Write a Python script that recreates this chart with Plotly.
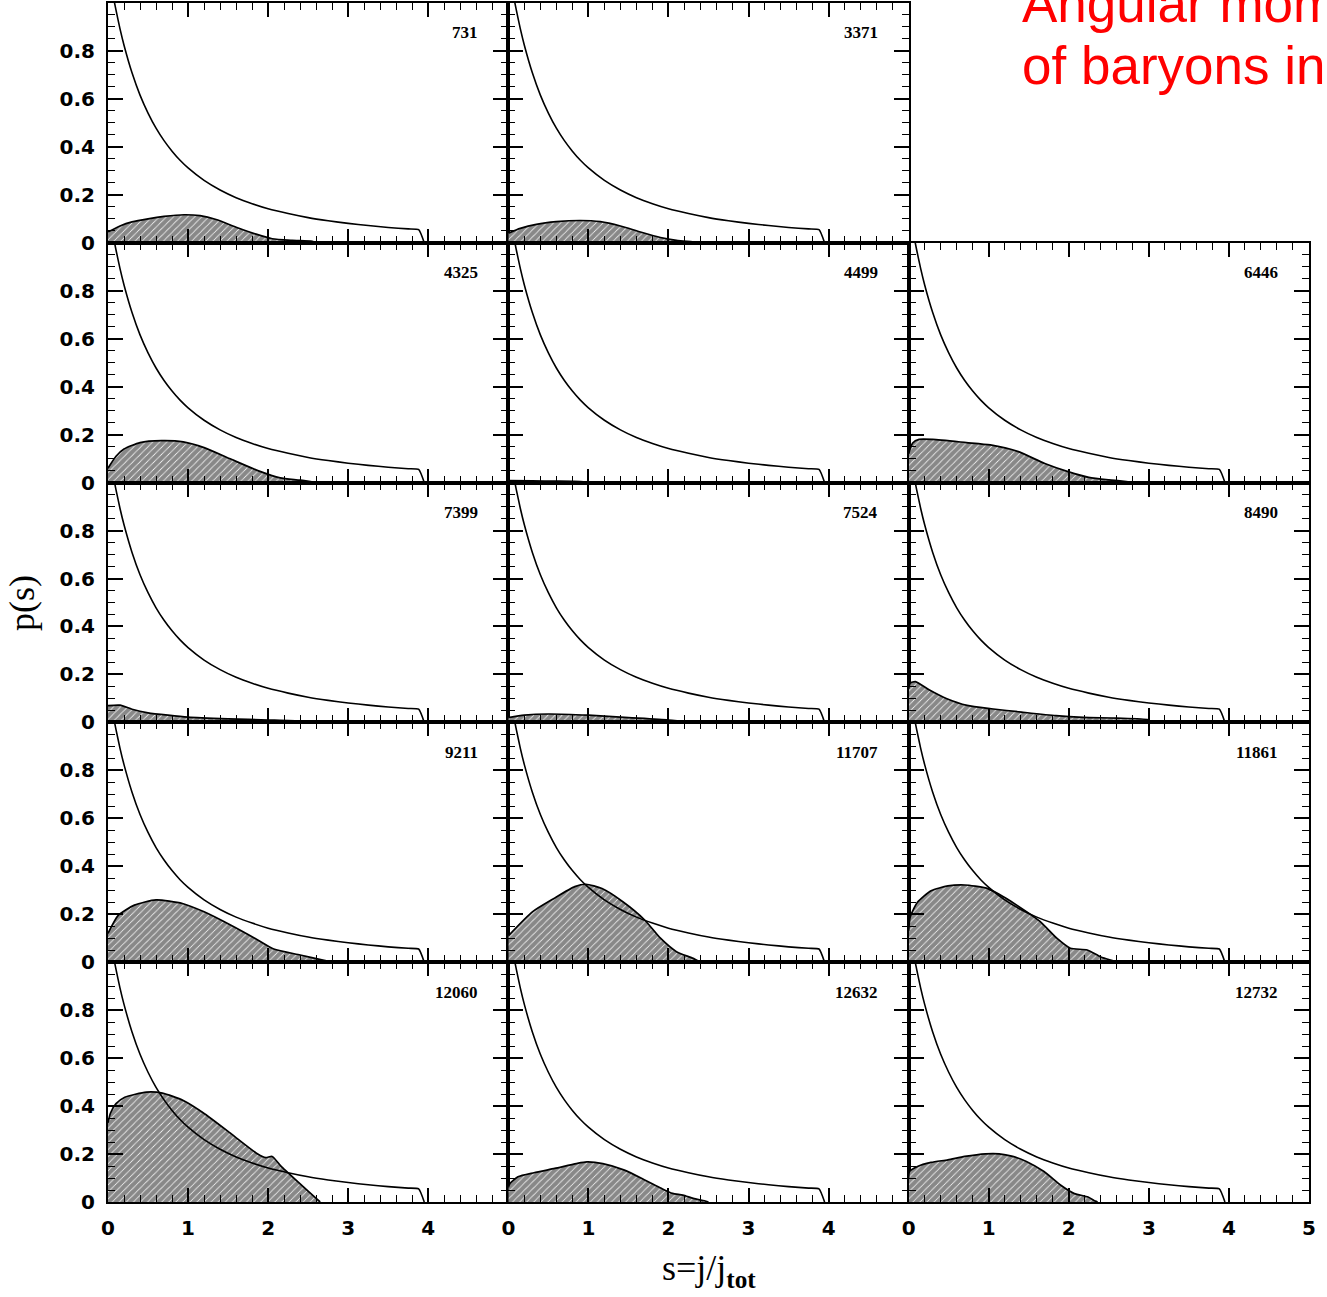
import plotly.graph_objects as go
from plotly.subplots import make_subplots

# ---- universal reference curve (same in every panel) ----
curve_s = [0.07, 0.1, 0.15, 0.2, 0.3, 0.4, 0.5, 0.6, 0.7, 0.8, 0.9, 1.0, 1.2, 1.4, 1.6,
           1.8, 2.0, 2.25, 2.5, 2.75, 3.0, 3.25, 3.5, 3.75, 3.88, 3.95]
curve_p = [1.02, 0.97, 0.892, 0.824, 0.709, 0.616, 0.541, 0.478, 0.426, 0.382, 0.344, 0.312,
           0.26, 0.22, 0.188, 0.163, 0.142, 0.122, 0.105, 0.092, 0.081, 0.072, 0.064, 0.058,
           0.055, 0.0]

# ---- baryon distributions (hatched) ----
s_731 = [0, 0.15, 0.3, 0.5, 0.7, 0.95, 1.15, 1.35, 1.6, 1.85, 2.05, 2.3, 2.55, 2.6]
p_731 = [0.045, 0.07, 0.087, 0.1, 0.11, 0.117, 0.113, 0.097, 0.065, 0.036, 0.017, 0.01, 0.006, 0]

s_3371 = [0, 0.15, 0.35, 0.6, 0.9, 1.15, 1.4, 1.65, 1.9, 2.1, 2.3, 2.4]
p_3371 = [0.04, 0.06, 0.077, 0.088, 0.093, 0.088, 0.07, 0.045, 0.022, 0.01, 0.004, 0]

s_4325 = [0, 0.1, 0.2, 0.4, 0.67, 0.94, 1.2, 1.54, 1.88, 2.15, 2.4, 2.6]
p_4325 = [0.06, 0.11, 0.14, 0.167, 0.175, 0.17, 0.146, 0.097, 0.049, 0.02, 0.01, 0]

s_4499 = [0, 0.3, 0.6, 0.9, 1.0]
p_4499 = [0.008, 0.007, 0.006, 0.004, 0]

s_6446 = [0, 0.05, 0.13, 0.3, 0.72, 1.02, 1.36, 1.7, 1.99, 2.25, 2.5, 2.75, 2.85]
p_6446 = [0.12, 0.165, 0.18, 0.18, 0.167, 0.157, 0.13, 0.08, 0.046, 0.022, 0.011, 0.003, 0]

s_7399 = [0, 0.15, 0.3, 0.5, 0.75, 1.0, 1.5, 2.0, 2.4, 2.5]
p_7399 = [0.07, 0.072, 0.055, 0.04, 0.03, 0.022, 0.015, 0.01, 0.005, 0]

s_7524 = [0, 0.2, 0.5, 1.0, 1.5, 2.0, 2.3]
p_7524 = [0.02, 0.03, 0.035, 0.03, 0.02, 0.01, 0]

s_8490 = [0, 0.02, 0.085, 0.26, 0.47, 0.73, 1.03, 1.41, 1.84, 2.18, 2.6, 2.99, 3.03]
p_8490 = [0.14, 0.164, 0.17, 0.135, 0.1, 0.071, 0.057, 0.043, 0.028, 0.021, 0.018, 0.011, 0]

s_9211 = [0, 0.13, 0.33, 0.6, 0.93, 1.2, 1.53, 1.87, 2.07, 2.4, 2.67, 2.8]
p_9211 = [0.12, 0.196, 0.238, 0.26, 0.245, 0.21, 0.155, 0.093, 0.055, 0.03, 0.01, 0]

s_11707 = [0, 0.3, 0.57, 0.83, 0.97, 1.17, 1.43, 1.7, 1.9, 2.1, 2.3, 2.4]
p_11707 = [0.11, 0.21, 0.266, 0.315, 0.325, 0.307, 0.252, 0.177, 0.1, 0.044, 0.017, 0]

s_11861 = [0, 0.02, 0.11, 0.28, 0.49, 0.7, 0.96, 1.13, 1.34, 1.64, 1.85, 2.02, 2.23, 2.4, 2.57, 2.6]
p_11861 = [0.13, 0.19, 0.25, 0.298, 0.318, 0.322, 0.31, 0.283, 0.24, 0.17, 0.1, 0.058, 0.051,
           0.022, 0.004, 0]

s_12060 = [0, 0.03, 0.1, 0.21, 0.48, 0.68, 0.94, 1.21, 1.54, 1.87, 1.97, 2.05, 2.16, 2.4, 2.6, 2.65]
p_12060 = [0.33, 0.37, 0.41, 0.437, 0.458, 0.454, 0.423, 0.367, 0.284, 0.2, 0.185, 0.19, 0.15,
           0.076, 0.015, 0]

s_12632 = [0, 0.02, 0.12, 0.32, 0.58, 0.85, 0.98, 1.18, 1.45, 1.71, 1.91, 2.05, 2.18, 2.31, 2.45, 2.5]
p_12632 = [0.06, 0.077, 0.105, 0.122, 0.14, 0.16, 0.167, 0.16, 0.133, 0.091, 0.057, 0.036, 0.029,
           0.015, 0.005, 0]

s_12732 = [0, 0.01, 0.11, 0.28, 0.49, 0.7, 0.96, 1.13, 1.3, 1.47, 1.69, 1.9, 2.07, 2.24, 2.33, 2.36]
p_12732 = [0.1, 0.127, 0.148, 0.165, 0.176, 0.19, 0.201, 0.201, 0.19, 0.169, 0.127, 0.07, 0.035,
           0.021, 0.004, 0]

panel_ids = ["731", "3371", "4325", "4499", "6446", "7399", "7524", "8490",
             "9211", "11707", "11861", "12060", "12632", "12732"]
panel_rows = [1, 1, 2, 2, 2, 3, 3, 3, 4, 4, 4, 5, 5, 5]
panel_cols = [1, 2, 1, 2, 3, 1, 2, 3, 1, 2, 3, 1, 2, 3]
panel_s = [s_731, s_3371, s_4325, s_4499, s_6446, s_7399, s_7524, s_8490,
           s_9211, s_11707, s_11861, s_12060, s_12632, s_12732]
panel_p = [p_731, p_3371, p_4325, p_4499, p_6446, p_7399, p_7524, p_8490,
           p_9211, p_11707, p_11861, p_12060, p_12632, p_12732]

x_ticks_inner = [0, 1, 2, 3, 4]
x_ticks_last = [0, 1, 2, 3, 4, 5]
y_tickvals = [0, 0.2, 0.4, 0.6, 0.8]
y_ticktext = ["0", "0.2", "0.4", "0.6", "0.8"]

title_line1 = "Angular momentum"
title_line2 = "of baryons in"
x_title = "s=j/j<sub><b>tot</b></sub>"
y_title = "p(s)"

fig = make_subplots(rows=5, cols=3, horizontal_spacing=0, vertical_spacing=0)

tickfont = dict(family="DejaVu Sans", size=20, color="black", weight="bold")

for pid, r, c, s, p in zip(panel_ids, panel_rows, panel_cols, panel_s, panel_p):
    fig.add_trace(go.Scatter(
        x=s, y=p, mode="lines",
        line=dict(color="black", width=1.7, shape="spline", smoothing=0.6),
        fill="tozeroy", fillcolor="rgba(0,0,0,0)",
        fillpattern=dict(shape="/", fgcolor="#111111", bgcolor="white", size=5, solidity=0.85),
        hoverinfo="skip", showlegend=False), row=r, col=c)
    fig.add_trace(go.Scatter(
        x=curve_s, y=curve_p, mode="lines",
        line=dict(color="black", width=1.6, shape="spline", smoothing=0.5),
        hoverinfo="skip", showlegend=False), row=r, col=c)
    fig.add_annotation(x=4.64, y=0.875, text=pid, showarrow=False, xanchor="right",
                       yanchor="middle",
                       font=dict(family="Liberation Serif", size=17, color="black", weight="bold"),
                       row=r, col=c)

for r in range(1, 6):
    for c in range(1, 4):
        if r == 1 and c == 3:
            fig.update_xaxes(visible=False, row=r, col=c)
            fig.update_yaxes(visible=False, row=r, col=c)
            continue
        xv = x_ticks_last if c == 3 else x_ticks_inner
        fig.update_xaxes(
            range=[0, 5], showline=True, linecolor="black", linewidth=2, mirror="allticks",
            ticks="inside", ticklen=14, tickwidth=1.5, tickcolor="black",
            tickmode="array", tickvals=xv, ticktext=[str(v) for v in xv],
            showticklabels=(r == 5), tickfont=tickfont, ticklabelstandoff=7,
            showgrid=False, zeroline=False,
            minor=dict(ticks="inside", ticklen=7, tickwidth=1.3, tickcolor="black",
                       tickmode="linear", tick0=0, dtick=0.2, showgrid=False),
            row=r, col=c)
        fig.update_yaxes(
            range=[0, 1], showline=True, linecolor="black", linewidth=2, mirror="allticks",
            ticks="inside", ticklen=15, tickwidth=1.5, tickcolor="black",
            tickmode="array", tickvals=y_tickvals, ticktext=y_ticktext,
            showticklabels=(c == 1), tickfont=tickfont, ticklabelstandoff=7,
            showgrid=False, zeroline=False,
            minor=dict(ticks="inside", ticklen=7, tickwidth=1.3, tickcolor="black",
                       tickmode="linear", tick0=0, dtick=0.05, showgrid=False),
            row=r, col=c)

W, H = 1327, 1297
ML, MR, MT, MB = 108, 18, 1, 95
pw, ph = W - ML - MR, H - MT - MB


def px_x(px):
    return (px - ML) / pw


def px_y(py):
    return (H - MB - py) / ph


red_font = dict(family="Liberation Sans", size=53, color="#ff0000")
fig.add_annotation(x=px_x(1020), y=px_y(2), xref="paper", yref="paper", text=title_line1,
                   showarrow=False, xanchor="left", yanchor="middle", font=red_font)
fig.add_annotation(x=px_x(1020), y=px_y(64), xref="paper", yref="paper", text=title_line2,
                   showarrow=False, xanchor="left", yanchor="middle", font=red_font)
fig.add_annotation(x=px_x(22), y=px_y(602), xref="paper", yref="paper", text=y_title,
                   showarrow=False, textangle=-90, xanchor="center", yanchor="middle",
                   font=dict(family="Liberation Serif", size=36, color="black"))
fig.add_annotation(x=px_x(709), y=px_y(1271), xref="paper", yref="paper", text=x_title,
                   showarrow=False, xanchor="center", yanchor="middle",
                   font=dict(family="Liberation Serif", size=36, color="black"))

fig.update_layout(width=W, height=H, margin=dict(l=ML, r=MR, t=MT, b=MB),
                  paper_bgcolor="white", plot_bgcolor="white", showlegend=False)

fig.write_html("out.html")
